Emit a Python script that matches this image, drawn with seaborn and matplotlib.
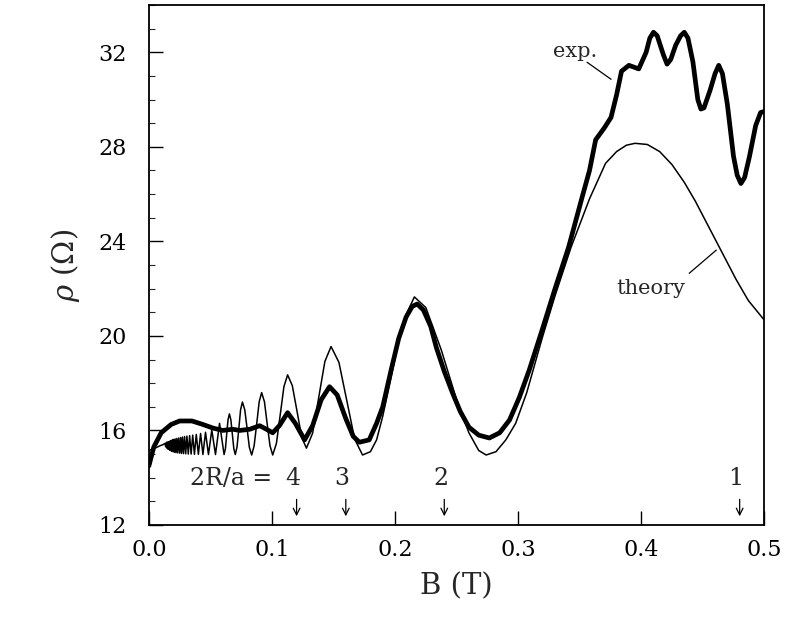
import matplotlib
matplotlib.use("Agg")
import matplotlib.pyplot as plt
import seaborn as sns
import pandas as pd
from matplotlib.ticker import MultipleLocator

# ---- data ----
exp_B = [0.000, 0.004, 0.010, 0.018, 0.025, 0.035, 0.044, 0.052, 0.060, 0.068,
         0.074, 0.082, 0.090, 0.0955, 0.1006, 0.106, 0.1127, 0.119, 0.1265, 0.133,
         0.140, 0.1468, 0.153, 0.160, 0.166, 0.171, 0.179, 0.185, 0.190, 0.197,
         0.203, 0.209, 0.214, 0.218, 0.223, 0.229, 0.2336, 0.240, 0.2466, 0.253,
         0.260, 0.268, 0.2766, 0.285, 0.293, 0.301, 0.309, 0.3195, 0.330, 0.341,
         0.352, 0.358, 0.363, 0.370, 0.3755, 0.380, 0.384, 0.390, 0.398, 0.404,
         0.407, 0.410, 0.413, 0.418, 0.421, 0.424, 0.428, 0.432, 0.435, 0.438,
         0.442, 0.446, 0.4485, 0.451, 0.456, 0.460, 0.463, 0.466, 0.470, 0.475,
         0.478, 0.481, 0.484, 0.488, 0.493, 0.497, 0.500]
exp_rho = [14.5, 15.3, 15.9, 16.25, 16.4, 16.4, 16.25, 16.1, 16.0, 16.05,
           16.0, 16.05, 16.2, 16.05, 15.9, 16.2, 16.75, 16.3, 15.6, 16.2,
           17.3, 17.85, 17.5, 16.5, 15.75, 15.5, 15.6, 16.3, 17.0, 18.6,
           19.9, 20.8, 21.25, 21.35, 21.1, 20.4, 19.5, 18.5, 17.6, 16.8,
           16.14, 15.8, 15.68, 15.9, 16.44, 17.4, 18.55, 20.25, 22.0, 23.75,
           25.87, 27.0, 28.3, 28.8, 29.25, 30.2, 31.2, 31.45, 31.3, 32.0,
           32.6, 32.85, 32.7, 31.9, 31.5, 31.7, 32.3, 32.7, 32.85, 32.6,
           31.6, 30.0, 29.6, 29.65, 30.4, 31.1, 31.45, 31.1, 29.8, 27.6,
           26.8, 26.45, 26.7, 27.6, 28.9, 29.45, 29.5]

th_B = [0.000, 0.005, 0.009, 0.0115, 0.0130, 0.0137,
        0.0143, 0.0147, 0.0151, 0.0155,
        0.0155, 0.0159, 0.0163, 0.0167, 0.0171, 0.0175, 0.0180, 0.0185, 0.0190, 0.0195,
        0.0201, 0.0207, 0.0213, 0.0220, 0.0227, 0.0234, 0.0242, 0.0250, 0.0258, 0.0265,
        0.0273, 0.0281, 0.0290, 0.0299, 0.0309, 0.0320, 0.0331, 0.0343, 0.0356, 0.0370,
        0.0385, 0.0402, 0.0420, 0.0439, 0.0460, 0.0484, 0.0511, 0.0541, 0.0574, 0.0611,
        0.0622, 0.0632, 0.0643, 0.0654, 0.0666, 0.0678, 0.0690, 0.0702,
        0.0716, 0.0731, 0.0745, 0.0760, 0.0779, 0.0798, 0.0816, 0.0835,
        0.0855, 0.0876, 0.0896, 0.0916, 0.0939, 0.0961, 0.0984, 0.1006,
        0.1036, 0.1067, 0.1097, 0.1127, 0.1165, 0.1204, 0.1242, 0.1280,
        0.1330, 0.1380, 0.1430, 0.1480, 0.1544, 0.1608, 0.1672, 0.1736,
        0.1800, 0.1850, 0.1900, 0.1970, 0.2030, 0.2090, 0.2157,
        0.2250, 0.2376, 0.2500, 0.2600, 0.2680, 0.2740,
        0.2820, 0.2900, 0.2980, 0.3070, 0.3195, 0.3300, 0.3430, 0.3580, 0.3710, 0.3800,
        0.3880, 0.3950, 0.4050, 0.4150, 0.4250, 0.4350, 0.4440, 0.4550, 0.4660, 0.4770,
        0.4870, 0.5000]
th_rho = [15.15, 15.25, 15.35, 15.40, 15.45, 15.30,
          15.50, 15.25, 15.50, 15.22,
          15.50, 15.20, 15.52, 15.18, 15.55, 15.15, 15.57, 15.12, 15.60, 15.10,
          15.62, 15.08, 15.64, 15.06, 15.66, 15.05, 15.68, 15.04, 15.70, 15.03,
          15.72, 15.02, 15.74, 15.01, 15.76, 15.00, 15.78, 15.00, 15.80, 14.99,
          15.83, 14.99, 15.87, 14.98, 15.92, 14.98, 16.02, 14.98, 16.30, 14.98,
          15.23, 15.84, 16.45, 16.70, 16.45, 15.84, 15.23, 14.98,
          15.30, 16.09, 16.88, 17.20, 16.87, 16.08, 15.29, 14.96,
          15.35, 16.28, 17.21, 17.60, 17.21, 16.28, 15.35, 14.96,
          15.45, 16.66, 17.85, 18.35, 17.90, 16.80, 15.70, 15.25,
          15.88, 17.40, 18.92, 19.55, 18.88, 17.26, 15.63, 14.96,
          15.10, 15.60, 16.60, 18.30, 19.80, 20.90, 21.65,
          21.20, 19.40, 17.30, 15.90, 15.15, 14.96,
          15.10, 15.60, 16.30, 17.60, 19.90, 21.70, 23.75, 25.80, 27.30, 27.80,
          28.07, 28.15, 28.10, 27.80, 27.25, 26.50, 25.70, 24.60, 23.50, 22.40,
          21.50, 20.67]

arrow_B = [0.12, 0.16, 0.24, 0.48]
arrow_labels = ["4", "3", "2", "1"]
x_ticks = [0.0, 0.1, 0.2, 0.3, 0.4, 0.5]
y_ticks = [12, 16, 20, 24, 28, 32]

exp_df = pd.DataFrame({"B": exp_B, "rho": exp_rho})
th_df = pd.DataFrame({"B": th_B, "rho": th_rho})

sns.set_theme(style="ticks")
plt.rcParams["font.family"] = ["DejaVu Serif"]
plt.rcParams["mathtext.fontset"] = "dejavuserif"

fig = plt.figure(figsize=(7.92, 6.34), dpi=100)
ax = fig.add_axes([0.188, 0.172, 0.777, 0.820])

sns.lineplot(data=th_df, x="B", y="rho", ax=ax, color="black", lw=1.1,
             estimator=None, sort=False)
sns.lineplot(data=exp_df, x="B", y="rho", ax=ax, color="black", lw=3.4,
             estimator=None, sort=False)

ax.set_xlim(0.0, 0.5)
ax.set_ylim(12, 34)
ax.set_xticks(x_ticks)
ax.set_xticklabels([f"{v:.1f}" for v in x_ticks])
ax.set_yticks(y_ticks)
ax.yaxis.set_minor_locator(MultipleLocator(1))
ax.tick_params(axis="both", which="major", direction="in", length=10, width=1,
               labelsize=16, colors="black")
ax.tick_params(axis="x", which="major", pad=10)
ax.tick_params(axis="y", which="major", pad=16)
ax.tick_params(axis="y", which="minor", direction="in", length=4, width=0.8)
for s in ax.spines.values():
    s.set_color("black")
    s.set_linewidth(1.3)

ax.set_xlabel("B (T)", fontsize=21, labelpad=8)
ax.set_ylabel(r"$\rho$ ($\Omega$)", fontsize=21, labelpad=12)

# annotations
ax.text(0.364, 32.05, "exp.", fontsize=15, ha="right", va="center")
ax.plot([0.356, 0.3755], [31.58, 30.86], color="black", lw=0.9)
ax.text(0.436, 22.0, "theory", fontsize=15, ha="right", va="center")
ax.plot([0.439, 0.461], [22.65, 23.63], color="black", lw=0.9)

ax.text(0.0998, 13.95, "2R/a =", fontsize=17, ha="right", va="center")
for b, lab in zip(arrow_B, arrow_labels):
    ax.text(b - 0.003, 13.95, lab, fontsize=17, ha="center", va="center")
    ax.annotate("", xy=(b, 12.25), xytext=(b, 13.2),
                arrowprops=dict(arrowstyle="->", color="black", lw=0.9))

fig.savefig("out.png", dpi=100)
